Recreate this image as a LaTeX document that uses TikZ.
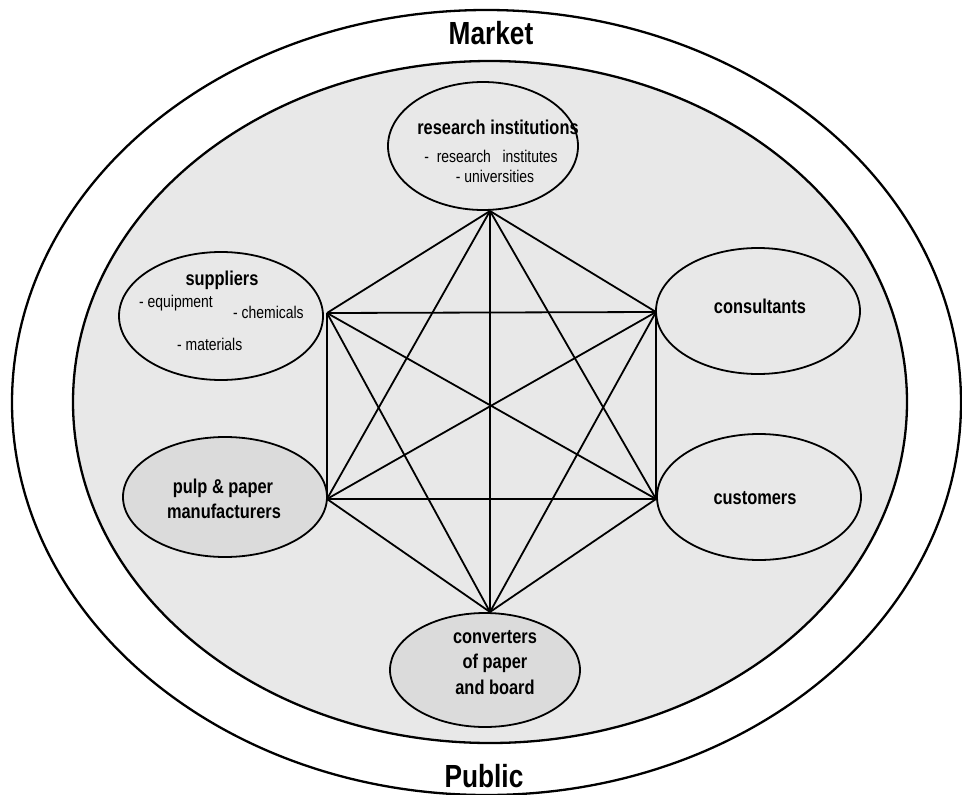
\documentclass[tikz,border=0pt]{standalone}
\usepackage{fontspec}
\setmainfont{Liberation Sans}
\newfontfamily\nar{Liberation Sans}[FakeStretch=0.82]
\usetikzlibrary{shapes.geometric}
\definecolor{bgin}{HTML}{E8E8E8}
\definecolor{dark}{HTML}{DBDBDB}
\begin{document}
\begin{tikzpicture}[x=1pt,y=-1pt,
 blob/.style={ellipse, draw, line width=1.8pt, fill=bgin, inner sep=0pt},
 heavy/.style={blob, fill=dark},
 link/.style={line width=1.8pt},
 txt/.style={anchor=base, inner sep=0pt},
 big/.style={txt, font=\nar\bfseries\fontsize{32}{36}\selectfont},
 head/.style={txt, font=\nar\bfseries\fontsize{20}{22}\selectfont},
 sub/.style={txt, font=\nar\fontsize{17}{19}\selectfont}]
\useasboundingbox (0,0) rectangle (962,795);
\draw[line width=2.3pt, fill=white] (486.5,402.5) ellipse [x radius=474.5pt, y radius=392.5pt];
\draw[line width=2.3pt, fill=bgin] (490,402) ellipse [x radius=417pt, y radius=341pt];

\node[blob, minimum width=190pt, minimum height=128pt] (res) at (483,146) {};
\node[blob, minimum width=204pt, minimum height=128pt] (sup) at (221,316) {};
\node[heavy, minimum width=204pt, minimum height=120pt] (pulp) at (225,497) {};
\node[blob, minimum width=204pt, minimum height=126pt] (cons) at (758,311) {};
\node[blob, minimum width=204pt, minimum height=126pt] (cust) at (759,497) {};
\node[heavy, minimum width=190pt, minimum height=114pt] (conv) at (485,670) {};

\coordinate (vT) at (490,211);
\coordinate (vUL) at (327,313);
\coordinate (vUR) at (656,312);
\coordinate (vLL) at (327,499);
\coordinate (vLR) at (656,499);
\coordinate (vB) at (490,612);

\foreach \a/\b in {vT/vUL, vT/vUR, vT/vLL, vT/vLR, vT/vB,
                   vUL/vUR, vUL/vLL, vUL/vLR, vUL/vB,
                   vUR/vLL, vUR/vLR, vUR/vB,
                   vLL/vLR, vLL/vB, vLR/vB}
  \draw[link, line join=round] (\a) -- (\b);

\node[big] (market) at (491,45) {Market};
\node[big] (public) at (484,787) {Public};

\node[head] (resT) at (498,134) {research institutions};
\node[sub] (resA) at (491,162) {-\ \ research\ \ \ institutes};
\node[sub] (resB) at (495,182) {- universities};

\node[head] (supT) at (222,285) {suppliers};
\node[sub, anchor=base west] (supA) at (139,307) {- equipment};
\node[sub, anchor=base west] (supB) at (233,318) {- chemicals};
\node[sub, anchor=base west] (supC) at (177,350) {- materials};

\node[head] (pulpA) at (223,493) {pulp \& paper};
\node[head] (pulpB) at (224,518) {manufacturers};

\node[head] (consT) at (760,313) {consultants};
\node[head] (custT) at (755,504) {customers};

\node[head] (convA) at (495,643) {converters};
\node[head] (convB) at (495,668) {of paper};
\node[head] (convC) at (495,694) {and board};
\end{tikzpicture}
\end{document}
